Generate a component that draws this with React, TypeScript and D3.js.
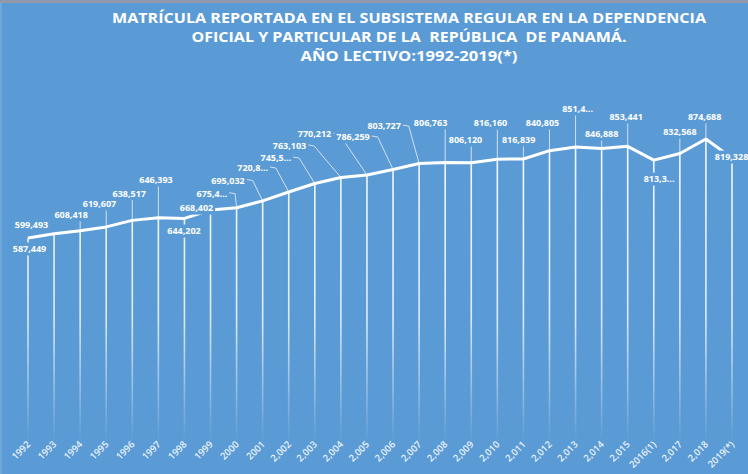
import React from "react";
import * as d3 from "d3";

const W = 748;
const H = 474;

const years = [
  "1992", "1993", "1994", "1995", "1996", "1997", "1998", "1999", "2000", "2001",
  "2,002", "2,003", "2,004", "2,005", "2,006", "2,007", "2,008", "2,009", "2,010",
  "2,011", "2,012", "2,013", "2,014", "2,015", "2016(1)", "2,017", "2,018", "2019(*)",
];

const enrollment = [
  587449, 599493, 608418, 619607, 638517, 646393, 644202, 668402, 675400, 695032,
  720800, 745500, 763103, 770212, 786259, 803727, 806763, 806120, 816160, 816839,
  840805, 851400, 846888, 853441, 813300, 832568, 874688, 819328,
];

// labels shown cut off in the original (index of year)
const truncatedLabels = [8, 10, 11, 21, 24];

// label placement offsets (dx, dy) from each point
const labelDx = [1.5, -22.6, -9, -6.7, -3, -2.4, -0.4, -14, -24.6, -34.6, -36, -38.8, -51.4, -52.4, -40, -35, -14.6, -5.7, -6.8, -4.8, -7, 2, 0, -1.6, 5.3, 0, -1.3, -0.4];
const labelDy = [11, -8.8, -16, -23, -27, -37.7, 12.6, -2, -14, -20.4, -24, -25.5, -31.5, -41, -32.5, -37.4, -39.4, -22.6, -36, -19, -27.7, -38, -14.6, -29.3, 19, -21.5, -22, -1];

const titleLines = [
  "MATRÍCULA REPORTADA EN EL SUBSISTEMA REGULAR EN LA DEPENDENCIA",
  "OFICIAL Y PARTICULAR DE LA  REPÚBLICA  DE PANAMÁ.",
  "AÑO LECTIVO:1992-2019(*)",
];
const titleWidths = [594, 435, 217];

const BG = "#5b9bd5";
const fmt = d3.format(",");

function textWidth(s: string) {
  let w = 0;
  for (const c of s) {
    if (c === "," || c === ".") w += 2.4;
    else w += 5.15;
  }
  return w;
}

export default function App() {
  const x = d3.scalePoint<string>().domain(years).range([28, 732]);
  const y = d3.scaleLinear().domain([500000, 900000]).range([268.1, 130.3]);
  const bottom = 442;

  const pts = enrollment.map((v, i) => ({ px: x(years[i]) as number, py: y(v), v, i }));
  const line = d3
    .line<{ px: number; py: number }>()
    .x((d) => d.px)
    .y((d) => d.py);

  const labels = pts.map((p) => {
    let t = fmt(p.v);
    if (truncatedLabels.includes(p.i)) t = t.slice(0, 5) + "...";
    const w = textWidth(t);
    const cx = p.px + labelDx[p.i];
    const cy = p.py + labelDy[p.i];
    return { ...p, t, w, cx, cy };
  });

  return (
    <svg
      width={W}
      height={H}
      style={{ position: "absolute", left: 0, top: 0, display: "block" }}
      fontFamily="'Open Sans', sans-serif"
    >
      <defs>
        <linearGradient id="drop" gradientUnits="userSpaceOnUse" x1="0" y1="130" x2="0" y2={bottom}>
          <stop offset="0" stopColor="#fff" stopOpacity={0.95} />
          <stop offset="0.6" stopColor="#fff" stopOpacity={0.8} />
          <stop offset="1" stopColor="#fff" stopOpacity={0} />
        </linearGradient>
      </defs>
      <rect x={0} y={0} width={W} height={H} fill={BG} />
      <rect x={0} y={0} width={W} height={3} fill="#9299ab" />
      <rect x={0} y={3} width={2} height={H - 3} fill="#6ea7da" />

      {titleLines.map((s, i) => (
        <text
          key={i}
          x={409}
          y={22.5 + i * 19}
          textAnchor="middle"
          fill="#fff"
          fontWeight="bold"
          fontSize={15}
          textLength={titleWidths[i]}
          lengthAdjust="spacingAndGlyphs"
          style={{ whiteSpace: "pre" }}
        >
          {s}
        </text>
      ))}

      {/* drop lines */}
      {pts.map((p) => (
        <line
          key={"d" + p.i}
          x1={p.px}
          x2={p.px}
          y1={p.py}
          y2={bottom}
          stroke="url(#drop)"
          strokeWidth={1.6}
        />
      ))}

      {/* leader lines */}
      {labels
        .filter((l) => labelDy[l.i] < -12)
        .map((l) => {
          const right = l.cx + l.w / 2;
          let dstr: string;
          if (l.px > right + 1) {
            dstr = `M${right + 2},${l.cy - 1} L${right + 8},${l.cy} L${l.px},${l.py}`;
          } else {
            dstr = `M${l.px},${l.cy + 5} L${l.px},${l.py}`;
          }
          return (
            <path key={"l" + l.i} d={dstr} fill="none" stroke="#dfe8f2" strokeWidth={0.9} />
          );
        })}

      <path
        d={line(pts) || ""}
        fill="none"
        stroke="#fff"
        strokeWidth={3}
        strokeLinejoin="round"
      />

      {labels.map((l) => (
        <g key={"t" + l.i}>
          <rect x={l.cx - l.w / 2 - 2} y={l.cy - 6.5} width={l.w + 4} height={13} fill={BG} />
          <text
            x={l.cx}
            y={l.cy + 3.3}
            textAnchor="middle"
            fill="#fff"
            fontWeight="bold"
            fontSize={9}
          >
            {l.t}
          </text>
        </g>
      ))}

      {years.map((yr) => {
        const px = x(yr) as number;
        return (
          <text
            key={"x" + yr}
            transform={`translate(${px + 3},${445}) rotate(-45)`}
            textAnchor="end"
            fill="#fff"
            fillOpacity={0.88}
            fontWeight={600}
            fontSize={9.5}
          >
            {yr}
          </text>
        );
      })}
    </svg>
  );
}
